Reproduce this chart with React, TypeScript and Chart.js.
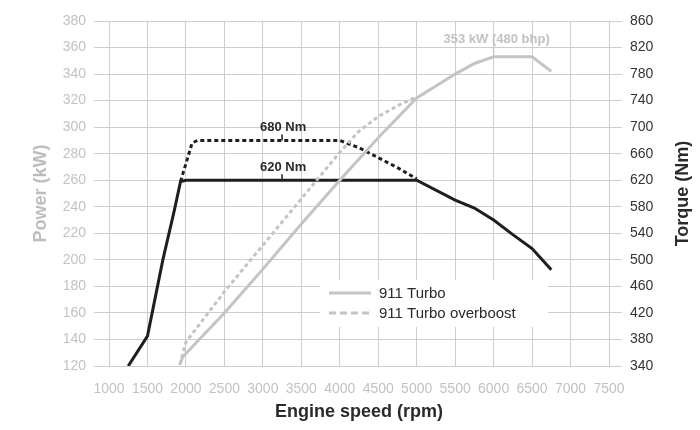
import React, { useEffect, useRef } from "react";
import { Chart, registerables } from "chart.js";

Chart.register(...registerables);

// ---- data ----
const turboPowerRpm = [1920, 1960, 2500, 3000, 3500, 4000, 4500, 5000, 5500, 5750, 6000, 6500, 6750];
const turboPowerKw = [121, 127, 160, 193, 227, 260, 292, 322, 340, 348, 353, 353, 342];

const boostPowerRpm = [1920, 2000, 2500, 3000, 3500, 4000, 4250, 4500, 4750, 5000];
const boostPowerKw = [121, 138, 176, 211, 246, 281, 297, 308, 316, 323];

const turboTorqueRpm = [1250, 1500, 1700, 1850, 1930, 2000, 5000, 5500, 5750, 6000, 6250, 6500, 6750];
const turboTorqueNm = [340, 385, 500, 575, 618, 620, 620, 590, 578, 560, 538, 517, 485];

const boostTorqueRpm = [1930, 2080, 2150, 4000, 4250, 4500, 4750, 5000];
const boostTorqueNm = [618, 676, 680, 680, 669, 654, 639, 622];

const seriesLabels = ["911 Turbo", "911 Turbo overboost"];
const xTitle = "Engine speed (rpm)";
const yTitle = "Power (kW)";
const y2Title = "Torque (Nm)";

const annotationTexts = ["680 Nm", "620 Nm", "353 kW (480 bhp)"];
const annotationRpm = [3250, 3250, 6000];
const annotationValues = [680, 620, 353];
const annotationAxes = ["y2", "y2", "y"];

const FONT = "'Liberation Sans', Arial, sans-serif";
const GREY_LINE = "#c4c4c4";
const BLACK_LINE = "#1e1e1e";
const GRID = "#cdcdcd";
const GREY_TEXT = "#c2c2c2";
const DARK_TEXT = "#2a2a2a";

const toPoints = (xs: number[], ys: number[]) => xs.map((x, i) => ({ x, y: ys[i] }));

const annotationPlugin = {
  id: "annotations",
  afterDatasetsDraw(chart: any) {
    const ctx = chart.ctx;
    annotationTexts.forEach((text, i) => {
      const axis = annotationAxes[i];
      const x = chart.scales.x.getPixelForValue(annotationRpm[i]);
      const y = chart.scales[axis].getPixelForValue(annotationValues[i]);
      const isKw = axis === "y";
      const color = isKw ? GREY_TEXT : DARK_TEXT;
      ctx.save();
      ctx.strokeStyle = isKw ? GREY_LINE : BLACK_LINE;
      ctx.lineWidth = 1.5;
      ctx.beginPath();
      if (isKw) {
        ctx.moveTo(x, y - 10);
        ctx.lineTo(x, y - 2);
      } else {
        ctx.moveTo(x, y - 6);
        ctx.lineTo(x, y);
      }
      ctx.stroke();
      ctx.fillStyle = color;
      ctx.font = `bold 13px ${FONT}`;
      ctx.textAlign = "center";
      ctx.textBaseline = "middle";
      ctx.fillText(text, x + (isKw ? 3 : 1), y - (isKw ? 17 : 13));
      ctx.restore();
    });
  },
};

const legendPlugin = {
  id: "boxLegend",
  beforeDatasetsDraw(chart: any) {
    const ctx = chart.ctx;
    const ca = chart.chartArea;
    const bx = ca.left + 211;
    const by = ca.top + 259;
    ctx.save();
    ctx.fillStyle = "#ffffff";
    ctx.fillRect(bx, by, 228, 47);
    seriesLabels.forEach((label, i) => {
      const ds = chart.data.datasets[i];
      const y = by + 13 + i * 20;
      ctx.strokeStyle = ds.borderColor;
      ctx.lineWidth = 3;
      ctx.setLineDash(i === 1 ? [7, 4] : []);
      ctx.beginPath();
      ctx.moveTo(bx + 9, y);
      ctx.lineTo(bx + 51, y);
      ctx.stroke();
      ctx.setLineDash([]);
      ctx.fillStyle = DARK_TEXT;
      ctx.font = `15px ${FONT}`;
      ctx.textAlign = "left";
      ctx.textBaseline = "middle";
      ctx.fillText(label, bx + 59, y + 1);
    });
    ctx.restore();
  },
};

const rightTitlePlugin = {
  id: "rightTitle",
  afterDraw(chart: any) {
    const ctx = chart.ctx;
    const ca = chart.chartArea;
    const x = chart.scales.y2.left + 74;
    ctx.save();
    ctx.translate(x, (ca.top + ca.bottom) / 2);
    ctx.rotate(-Math.PI / 2);
    ctx.font = `bold 18px ${FONT}`;
    ctx.fillStyle = DARK_TEXT;
    ctx.textAlign = "center";
    ctx.textBaseline = "middle";
    ctx.fillText(y2Title, 0, 0);
    ctx.restore();
  },
};

export default function App() {
  const canvasRef = useRef<HTMLCanvasElement | null>(null);

  useEffect(() => {
    if (!canvasRef.current) return;
    Chart.defaults.font.family = FONT;
    const chart = new Chart(canvasRef.current, {
      type: "line",
      data: {
        datasets: [
          {
            label: seriesLabels[0],
            data: toPoints(turboPowerRpm, turboPowerKw),
            borderColor: GREY_LINE,
            borderWidth: 3,
            pointRadius: 0,
            yAxisID: "y",
            tension: 0,
          },
          {
            label: seriesLabels[1],
            data: toPoints(boostPowerRpm, boostPowerKw),
            borderColor: GREY_LINE,
            borderWidth: 3,
            borderDash: [4, 3],
            pointRadius: 0,
            yAxisID: "y",
            tension: 0,
          },
          {
            label: "Torque",
            data: toPoints(turboTorqueRpm, turboTorqueNm),
            borderColor: BLACK_LINE,
            borderWidth: 3,
            pointRadius: 0,
            yAxisID: "y2",
            tension: 0,
          },
          {
            label: "Torque overboost",
            data: toPoints(boostTorqueRpm, boostTorqueNm),
            borderColor: BLACK_LINE,
            borderWidth: 3,
            borderDash: [4, 3],
            pointRadius: 0,
            yAxisID: "y2",
            tension: 0,
          },
        ],
      },
      options: {
        responsive: false,
        animation: false,
        layout: { padding: { top: 21, left: 0, right: 0, bottom: 0 } },
        plugins: {
          legend: { display: false },
          tooltip: { enabled: false },
        },
        scales: {
          x: {
            type: "linear",
            min: 1000,
            max: 7500,
            border: { display: false },
            grid: { color: GRID, lineWidth: 1, drawTicks: false },
            ticks: {
              stepSize: 500,
              autoSkip: false,
              maxRotation: 0,
              color: GREY_TEXT,
              font: { size: 14 },
              padding: 15,
              callback: (v: any) => String(v),
            },
            title: {
              display: true,
              text: xTitle,
              color: DARK_TEXT,
              font: { size: 18, weight: "bold" },
              padding: { top: 0, bottom: 7 },
            },
            afterFit: (s: any) => {
              s.height = 64;
            },
          },
          y: {
            position: "left",
            min: 120,
            max: 380,
            border: { display: false },
            grid: { color: GRID, lineWidth: 1, tickLength: 15 },
            ticks: { stepSize: 20, color: GREY_TEXT, font: { size: 14 }, padding: 8 },
            title: {
              display: true,
              text: yTitle,
              color: "#bdbdbd",
              font: { size: 18, weight: "bold" },
              padding: { top: 30, bottom: 0 },
            },
            afterFit: (s: any) => {
              s.width = 109;
            },
          },
          y2: {
            position: "right",
            min: 340,
            max: 860,
            border: { display: false },
            grid: { color: GRID, lineWidth: 1, tickLength: 13, drawOnChartArea: false },
            ticks: { stepSize: 40, color: "#333333", font: { size: 14 }, padding: 8 },
            afterFit: (s: any) => {
              s.width = 91;
            },
          },
        },
      },
      plugins: [legendPlugin, annotationPlugin, rightTitlePlugin],
    } as any);
    return () => chart.destroy();
  }, []);

  return (
    <div style={{ position: "absolute", left: 0, top: 0, width: 700, height: 430, background: "#fff" }}>
      <canvas ref={canvasRef} width={700} height={430} style={{ display: "block" }} />
    </div>
  );
}
